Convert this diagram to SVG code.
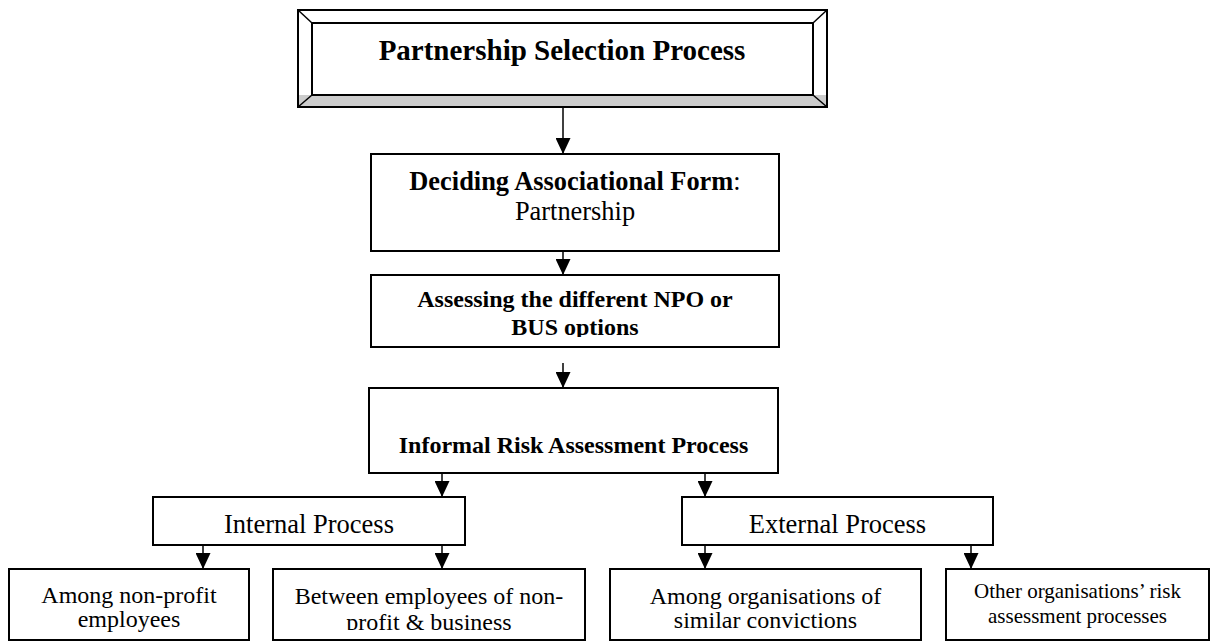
<svg xmlns="http://www.w3.org/2000/svg" width="1210" height="641" viewBox="0 0 1210 641">
<style>
text{font-family:"Liberation Serif","Times New Roman",serif;fill:#000;text-anchor:middle}
.box{fill:#fff;stroke:#000;stroke-width:2}
.b{font-weight:bold}
.conn line{stroke:#000;stroke-width:1.5}
</style>
<defs>
<marker id="ah" viewBox="0 0 16 15" refX="16" refY="7.5" markerWidth="16" markerHeight="15" markerUnits="userSpaceOnUse" orient="auto">
<path d="M0,0 L16,7.5 L0,15 Z" fill="#000"/>
</marker>
<clipPath id="c2"><rect x="371" y="275" width="408" height="62"/></clipPath>
<clipPath id="c7"><rect x="273" y="569" width="312" height="61"/></clipPath>
</defs>
<rect width="1210" height="641" fill="#fff"/>
<g id="n-title">
<rect x="298" y="10" width="529" height="97" fill="#fff" stroke="#000" stroke-width="2"/>
<polygon points="298,95 827,95 827,107 298,107" fill="#ccc"/>
<rect x="298" y="10" width="529" height="97" fill="none" stroke="#000" stroke-width="2"/>
<rect x="312" y="23" width="501" height="72" fill="#fff" stroke="#000" stroke-width="2"/>
<line x1="298" y1="10" x2="312" y2="23" stroke="#000" stroke-width="1.5"/>
<line x1="298" y1="107" x2="312" y2="95" stroke="#000" stroke-width="1.5"/>
<line x1="827" y1="10" x2="813" y2="23" stroke="#000" stroke-width="1.5"/>
<line x1="827" y1="107" x2="813" y2="95" stroke="#000" stroke-width="1.5"/>
<text x="562" y="60" class="b" font-size="29">Partnership Selection Process</text>
</g>
<g id="n-deciding">
<rect class="box" x="371" y="154" width="408" height="97"/>
<text x="575" y="190" font-size="26.4"><tspan class="b">Deciding Associational Form</tspan>:</text>
<text x="575" y="220" font-size="26.4">Partnership</text>
</g>
<g id="n-assessing">
<rect class="box" x="371" y="275" width="408" height="72"/>
<g clip-path="url(#c2)">
<text x="575" y="307" class="b" font-size="24">Assessing the different NPO or</text>
<text x="575" y="335" class="b" font-size="24">BUS options</text>
</g>
</g>
<g id="n-informal">
<rect class="box" x="369" y="388" width="409" height="85"/>
<text x="573.5" y="453" class="b" font-size="24">Informal Risk Assessment Process</text>
</g>
<g id="n-internal">
<rect class="box" x="153" y="497" width="312" height="48"/>
<text x="309" y="533" font-size="26.5">Internal Process</text>
</g>
<g id="n-external">
<rect class="box" x="682" y="497" width="311" height="48"/>
<text x="837.5" y="533" font-size="26.5">External Process</text>
</g>
<g id="n-among-np">
<rect class="box" x="9" y="569" width="240" height="71"/>
<text x="129" y="603" font-size="24">Among non-profit</text>
<text x="129" y="627" font-size="24">employees</text>
</g>
<g id="n-between">
<rect class="box" x="273" y="569" width="312" height="71"/>
<g clip-path="url(#c7)">
<text x="429" y="604" font-size="24">Between employees of non-</text>
<text x="429" y="630" font-size="24">profit &amp; business</text>
</g>
</g>
<g id="n-among-org">
<rect class="box" x="610" y="569" width="311" height="71"/>
<text x="765.5" y="604" font-size="24">Among organisations of</text>
<text x="765.5" y="628" font-size="24">similar convictions</text>
</g>
<g id="n-other">
<rect class="box" x="946" y="569" width="263" height="71"/>
<text x="1077.5" y="598" font-size="21">Other organisations’ risk</text>
<text x="1077.5" y="623" font-size="21">assessment processes</text>
</g>
<g id="connectors" class="conn">
<line x1="563" y1="107" x2="563" y2="154" marker-end="url(#ah)"/>
<line x1="563" y1="251" x2="563" y2="275" marker-end="url(#ah)"/>
<line x1="563" y1="363" x2="563" y2="388" marker-end="url(#ah)"/>
<line x1="442" y1="473" x2="442" y2="497" marker-end="url(#ah)"/>
<line x1="705" y1="473" x2="705" y2="497" marker-end="url(#ah)"/>
<line x1="203" y1="545" x2="203" y2="569" marker-end="url(#ah)"/>
<line x1="442" y1="545" x2="442" y2="569" marker-end="url(#ah)"/>
<line x1="705" y1="545" x2="705" y2="569" marker-end="url(#ah)"/>
<line x1="971" y1="545" x2="971" y2="569" marker-end="url(#ah)"/>
</g>
</svg>
